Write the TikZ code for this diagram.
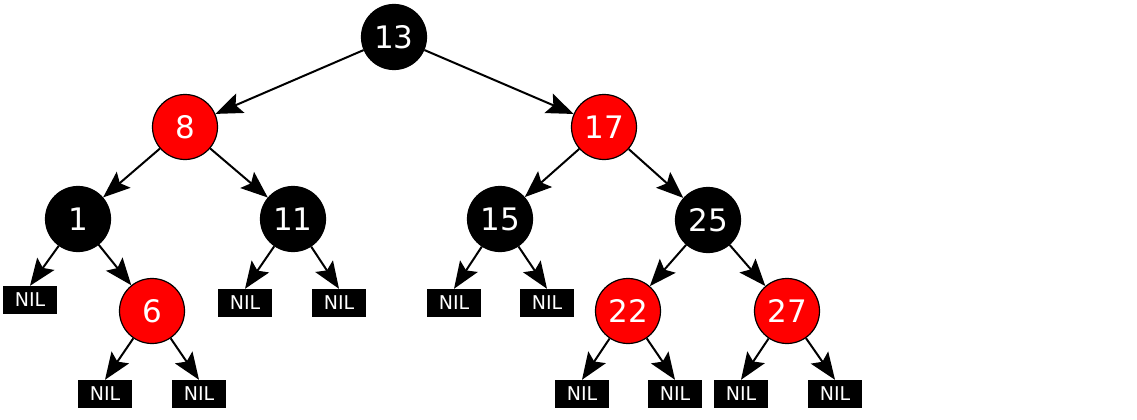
\documentclass[tikz,border=0pt]{standalone}
\usepackage{fontspec}
\setsansfont{DejaVu Sans}
\usetikzlibrary{arrows.meta}

\begin{document}
\begin{tikzpicture}[
    x=1pt, y=-1pt,
    rbnode/.style={circle, draw=black, line width=1.2pt, minimum size=65pt, inner sep=0pt, text=white, font=\sffamily\fontsize{31}{31}\selectfont},
    blacknode/.style={rbnode, fill=black},
    rednode/.style={rbnode, fill=red},
    nilbox/.style={rectangle, fill=black, minimum width=54pt, minimum height=28pt, inner sep=0pt, text=white, font=\sffamily\fontsize{19}{19}\selectfont},
    arrow/.style={line width=2pt, -{Stealth[length=27pt, width=21pt, inset=5pt]}}
]
\useasboundingbox (0,0) rectangle (1137,420);

% Level 0 and 1
\node[blacknode] (n13) at (394,37) {13};
\node[rednode] (n8) at (185,127) {8};
\node[rednode] (n17) at (604,127) {17};

% Level 2
\node[blacknode] (n1) at (78,219) {1};
\node[blacknode] (n11) at (293,219) {11};
\node[blacknode] (n15) at (500,219) {15};
\node[blacknode] (n25) at (708,220) {25};

% Level 3
\node[nilbox] (nil1a) at (30,300) {NIL};
\node[rednode] (n6) at (152,311) {6};
\node[nilbox] (nil11a) at (245,303) {NIL};
\node[nilbox] (nil11b) at (339,303) {NIL};
\node[nilbox] (nil15a) at (454,303) {NIL};
\node[nilbox] (nil15b) at (547,303) {NIL};
\node[rednode] (n22) at (628,311) {22};
\node[rednode] (n27) at (787,311) {27};

% Level 4
\node[nilbox] (nil6a) at (105,394) {NIL};
\node[nilbox] (nil6b) at (199,394) {NIL};
\node[nilbox] (nil22a) at (582,394) {NIL};
\node[nilbox] (nil22b) at (675,394) {NIL};
\node[nilbox] (nil27a) at (741,394) {NIL};
\node[nilbox] (nil27b) at (835,394) {NIL};

% Edges
\draw[arrow] (n13) -- (n8);
\draw[arrow] (n13) -- (n17);
\draw[arrow] (n8) -- (n1);
\draw[arrow] (n8) -- (n11);
\draw[arrow] (n17) -- (n15);
\draw[arrow] (n17) -- (n25);
\draw[arrow] (n1) -- (nil1a.north);
\draw[arrow] (n1) -- (n6);
\draw[arrow] (n11) -- (nil11a.north);
\draw[arrow] (n11) -- (nil11b.north);
\draw[arrow] (n15) -- (nil15a.north);
\draw[arrow] (n15) -- (nil15b.north);
\draw[arrow] (n25) -- (n22);
\draw[arrow] (n25) -- (n27);
\draw[arrow] (n6) -- (nil6a.north);
\draw[arrow] (n6) -- (nil6b.north);
\draw[arrow] (n22) -- (nil22a.north);
\draw[arrow] (n22) -- (nil22b.north);
\draw[arrow] (n27) -- (nil27a.north);
\draw[arrow] (n27) -- (nil27b.north);

\end{tikzpicture}
\end{document}
